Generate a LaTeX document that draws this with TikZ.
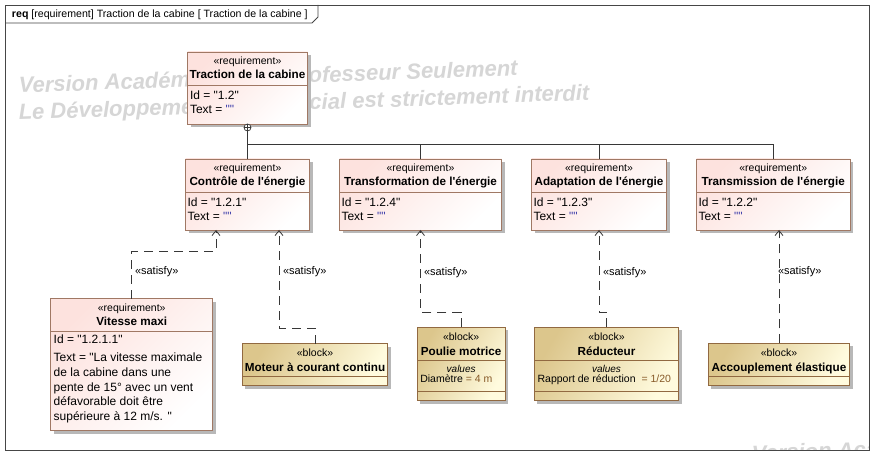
\documentclass[tikz,border=0pt]{standalone}
\usepackage{fontspec}
\setmainfont{Liberation Sans}[Ligatures=TeXOff]
\usepackage{tikz}
\usetikzlibrary{arrows.meta}
\usetikzlibrary{shadows}
\usetikzlibrary{positioning}

\definecolor{reqline}{RGB}{160,120,100}
\definecolor{reqtop}{RGB}{253,226,222}
\definecolor{blockline}{RGB}{145,105,65}
\definecolor{blockdark}{RGB}{220,198,140}
\definecolor{blocklight}{RGB}{255,251,222}
\definecolor{linecol}{RGB}{55,55,55}
\definecolor{framecol}{RGB}{70,70,70}
\definecolor{wmgray}{RGB}{214,214,214}
\definecolor{valcol}{RGB}{135,90,40}
\definecolor{quotecol}{RGB}{60,60,170}

\begin{document}
\begin{tikzpicture}[x=1pt, y=-1pt,
  every node/.style={inner sep=0pt, outer sep=0pt, font=\fontsize{12}{14}\selectfont},
  box/.style={anchor=north west, line width=0.8pt,
    drop shadow={shadow xshift=3pt, shadow yshift=-3pt, fill=black!28, opacity=1}},
  reqbox/.style={box, draw=reqline, top color=reqtop, bottom color=white, shading angle=45},
  blockbox/.style={box, draw=blockline, top color=blockdark, bottom color=blocklight, shading angle=60},
  stereo/.style={anchor=base, font=\fontsize{10.5}{13}\selectfont},
  title/.style={anchor=base, font=\bfseries\fontsize{11.7}{14}\selectfont},
  prop/.style={anchor=base west},
  val/.style={anchor=base west, font=\fontsize{10.5}{13}\selectfont},
  valhead/.style={anchor=base, font=\itshape\fontsize{10}{12}\selectfont},
  tree/.style={draw=linecol, line width=0.8pt},
  sat/.style={draw=linecol, line width=0.8pt, dash pattern=on 9pt off 6pt,
    -{Straight Barb[length=5pt,width=8pt]}},
  satlabel/.style={anchor=west, font=\fontsize{11}{13}\selectfont},
  wmark/.style={anchor=base west, rotate=2, text=wmgray,
    font=\bfseries\itshape\fontsize{22}{22}\selectfont}]
\useasboundingbox (0,0) rectangle (884,465);
\fill[white] (0,0) rectangle (884,465);

% watermark
\node[wmark] (wm1) at (19,93) {Version Académique\hskip 50pt Professeur Seulement};
\node[wmark] (wm2) at (19,120) {Le Développement Commercial est strictement interdit};
\begin{scope}
  \clip (5,5) rectangle (869,450);
  \node[wmark] (wm3) at (752,461) {Version Académique Professeur Seulement};
\end{scope}

% frame
\draw[framecol, line width=0.8pt] (5,5) rectangle (869,450);
\draw[framecol, line width=0.8pt] (5,23) -- (312,23) -- (318,17) -- (318,5);
\node[anchor=base west, font=\fontsize{10.6}{13}\selectfont] (hdr) at (12,18)
  {\textbf{req} [requirement] Traction de la cabine [ Traction de la cabine ]};

% root requirement
\node[reqbox, minimum width=120pt, minimum height=72pt] (root) at (187.5,52) {};
\node[stereo] (root-s) at ([yshift=-12.5pt]root.north) {«requirement»};
\node[title] (root-n) at ([yshift=-27pt]root.north) {Traction de la cabine};
\draw[reqline, line width=0.8pt] ([yshift=-33pt]root.north west) -- ([yshift=-33pt]root.north east);
\node[prop] (root-i) at ([xshift=2.5pt,yshift=-48pt]root.north west) {Id = "1.2"};
\node[prop] (root-t) at ([xshift=2.5pt,yshift=-62pt]root.north west) {Text = \textcolor{quotecol}{""}};

% sub requirements
\foreach \n/\x/\w/\ttl/\id in {ctl/185.5/124/Contrôle de l'énergie/1.2.1,
    trf/339.5/162/Transformation de l'énergie/1.2.4,
    adp/531.5/135/Adaptation de l'énergie/1.2.3,
    tms/696.5/153.5/Transmission de l'énergie/1.2.2}{
  \node[reqbox, minimum width=\w*1pt, minimum height=71pt] (\n) at (\x,159) {};
  \node[stereo] (\n-s) at ([yshift=-12.5pt]\n.north) {«requirement»};
  \node[title] (\n-n) at ([yshift=-27pt]\n.north) {\ttl};
  \draw[reqline, line width=0.8pt] ([yshift=-33pt]\n.north west) -- ([yshift=-33pt]\n.north east);
  \node[prop] (\n-i) at ([xshift=2pt,yshift=-48pt]\n.north west) {Id = "\id"};
  \node[prop] (\n-t) at ([xshift=2pt,yshift=-62pt]\n.north west) {Text = \textcolor{quotecol}{""}};
}

% containment
\node[draw=linecol, line width=0.7pt, circle, fill=white, minimum size=7pt, anchor=north,
  path picture={\draw[linecol, line width=0.7pt]
    (path picture bounding box.north) -- (path picture bounding box.south)
    (path picture bounding box.west) -- (path picture bounding box.east);}] (own) at (root.south) {};
\coordinate (bus) at (247.5,144);
\draw[tree] (own.south) -- (ctl.north);
\draw[tree] (bus) -| (trf.north);
\draw[tree] (bus) -| (adp.north);
\draw[tree] (bus) -| (tms.north);

% Vitesse maxi
\node[reqbox, minimum width=162pt, minimum height=132pt] (vmx) at (50.7,298.7) {};
\node[stereo] (vmx-s) at ([yshift=-12.5pt]vmx.north) {«requirement»};
\node[title] (vmx-n) at ([yshift=-27pt]vmx.north) {Vitesse maxi};
\draw[reqline, line width=0.8pt] ([yshift=-32.5pt]vmx.north west) -- ([yshift=-32.5pt]vmx.north east);
\node[prop] (vmx-i) at ([xshift=3pt,yshift=-45pt]vmx.north west) {Id = "1.2.1.1"};
\foreach \l [count=\k] in {Text = "La vitesse maximale, de la cabine dans une,
    pente de 15° avec un vent, défavorable doit être, supérieure à 12 m/s. "}
  \node[prop] (vmx-t\k) at ([xshift=3pt,yshift={-(48+14.8*\k)}]vmx.north west) {\l};

% blocks
\node[blockbox, minimum width=145.4pt, minimum height=42pt] (mot) at (242.3,343.7) {};
\node[stereo] (mot-s) at ([yshift=-12.8pt]mot.north) {«block»};
\node[title] (mot-n) at ([yshift=-27.8pt]mot.north) {Moteur à courant continu};
\draw[blockline, line width=0.8pt] ([yshift=-32.3pt]mot.north west) -- ([yshift=-32.3pt]mot.north east);

\node[blockbox, minimum width=87.7pt, minimum height=73.4pt] (pou) at (417.3,327.3) {};
\node[stereo] (pou-s) at ([yshift=-13.2pt]pou.north) {«block»};
\node[title] (pou-n) at ([yshift=-28.2pt]pou.north) {Poulie motrice};
\draw[blockline, line width=0.8pt] ([yshift=-33.4pt]pou.north west) -- ([yshift=-33.4pt]pou.north east);
\node[valhead] (pou-v) at ([yshift=-44.7pt]pou.north) {values};
\node[val] (pou-d) at ([xshift=3pt,yshift=-55.2pt]pou.north west) {Diamètre \textcolor{valcol}{= 4 m}};
\draw[blockline, line width=0.8pt] ([yshift=-63.7pt]pou.north west) -- ([yshift=-63.7pt]pou.north east);

\node[blockbox, minimum width=144.4pt, minimum height=73.4pt] (red) at (534.3,327.3) {};
\node[stereo] (red-s) at ([yshift=-13.2pt]red.north) {«block»};
\node[title] (red-n) at ([yshift=-28.2pt]red.north) {Réducteur};
\draw[blockline, line width=0.8pt] ([yshift=-33.4pt]red.north west) -- ([yshift=-33.4pt]red.north east);
\node[valhead] (red-v) at ([yshift=-44.7pt]red.north) {values};
\node[val] (red-d) at ([xshift=3.3pt,yshift=-55.2pt]red.north west) {Rapport de réduction~ \textcolor{valcol}{= 1/20}};
\draw[blockline, line width=0.8pt] ([yshift=-63.7pt]red.north west) -- ([yshift=-63.7pt]red.north east);

\node[blockbox, minimum width=141.4pt, minimum height=42.4pt] (acc) at (708.3,343.3) {};
\node[stereo] (acc-s) at ([yshift=-12.8pt]acc.north) {«block»};
\node[title] (acc-n) at ([yshift=-27.8pt]acc.north) {Accouplement élastique};
\draw[blockline, line width=0.8pt] ([yshift=-32.7pt]acc.north west) -- ([yshift=-32.7pt]acc.north east);

% satisfy links
\coordinate (k1) at (216,251);
\draw[sat] (vmx.north) |- (k1) -- (k1 |- ctl.south);
\node[satlabel] (s1) at (135,272) {«satisfy»};
\coordinate (k2) at (279,328);
\draw[sat] (mot.north) |- (k2) -- (k2 |- ctl.south);
\node[satlabel] (s2) at (283,272) {«satisfy»};
\draw[sat] (pou.north) |- ([yshift=-82pt]trf.south) -- (trf.south);
\node[satlabel] (s3) at (424,273) {«satisfy»};
\draw[sat] (red.north) |- ([yshift=-82pt]adp.south) -- (adp.south);
\node[satlabel] (s4) at (603,273) {«satisfy»};
\draw[sat] (acc.north) -- (acc.north |- tms.south);
\node[satlabel] (s5) at (778,272) {«satisfy»};
\end{tikzpicture}
\end{document}
